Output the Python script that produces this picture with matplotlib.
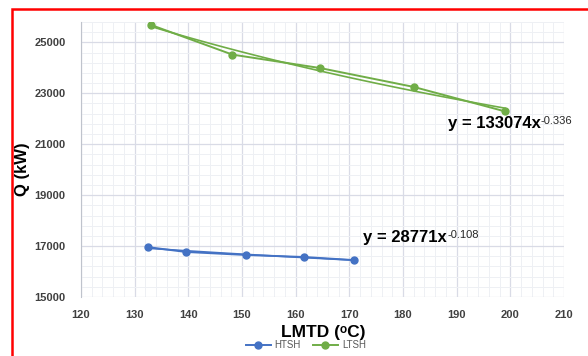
import numpy as np
import matplotlib.pyplot as plt
from matplotlib.patches import Rectangle
from matplotlib.ticker import FixedLocator, MultipleLocator

plt.rcParams['font.family'] = ['Liberation Sans', 'DejaVu Sans']

# data
htsh_x = [132.4, 139.5, 150.8, 161.6, 170.8]
htsh_q = [16960, 16770, 16650, 16570, 16450]
ltsh_x = [133.1, 148.2, 164.6, 182.0, 199.0]
ltsh_q = [25680, 24520, 23990, 23250, 22290]
htsh_eq = ("y = 28771x", "-0.108")
ltsh_eq = ("y = 133074x", "-0.336")
y_ticks = [15000, 17000, 19000, 21000, 23000, 25000]

blue = "#4472c4"
green = "#70ad47"

def power_fit(x, y):     # same kind of trendline Excel draws
    b, ln_a = np.polyfit(np.log(x), np.log(y), 1)
    xs = np.linspace(min(x), max(x), 100)
    return xs, np.exp(ln_a) * xs**b

fig = plt.figure(figsize=(5.88, 3.56), dpi=100)
ax = fig.add_axes([81/588, 59/356, 483/588, 275/356])

l1, = ax.plot(htsh_x, htsh_q, color=blue, lw=1.4, marker='o', ms=5, label="HTSH")
l2, = ax.plot(ltsh_x, ltsh_q, color=green, lw=1.4, marker='o', ms=5, label="LTSH")
xs, ys = power_fit(htsh_x, htsh_q)
ax.plot(xs, ys, color=blue, lw=1.2)
xs, ys = power_fit(ltsh_x, ltsh_q)
ax.plot(xs, ys, color=green, lw=1.2)

ax.set_xlim(120, 210)
ax.set_ylim(15000, 25800)
ax.xaxis.set_major_locator(MultipleLocator(10))
ax.xaxis.set_minor_locator(MultipleLocator(2))
ax.yaxis.set_major_locator(FixedLocator(y_ticks))
ax.yaxis.set_minor_locator(FixedLocator(np.arange(15000, 25801, 400)))
ax.grid(which='major', color='#d9dbe6', lw=0.9)
ax.grid(which='minor', color='#eef0f4', lw=0.7)
ax.set_axisbelow(True)
for s in ['top', 'right', 'bottom']:
    ax.spines[s].set_visible(False)
ax.spines['left'].set_color('#bfc3cc')
ax.tick_params(which='both', length=0)
ax.tick_params(axis='y', pad=11)
ax.tick_params(axis='x', pad=9)
for lab in ax.get_xticklabels() + ax.get_yticklabels():
    lab.set_fontsize(8)
    lab.set_fontweight('bold')
    lab.set_color('#404040')

ax.set_ylabel("Q (kW)", fontsize=12, fontweight='bold')
ax.set_xlabel("LMTD (ᵒC)", fontsize=12.5, fontweight='bold')
ax.yaxis.set_label_coords(-0.106, 0.465)
ax.xaxis.set_label_coords(0.502, -0.1)

# equation labels
for (main, sup), (tx, ty) in [(ltsh_eq, (188.3, 21800)), (htsh_eq, (172.6, 17330))]:
    t = ax.text(tx, ty, main, fontsize=12, fontweight='bold', va='center', ha='left')
    ax.annotate(sup, xy=(1, 1.02), xycoords=t, fontsize=8, va='top', ha='left',
                color='#262626')

fig.legend(handles=[l1, l2], loc='lower center', bbox_to_anchor=(0.52, 0.0), ncol=2,
           frameon=False, fontsize=7, handlelength=2.6, columnspacing=1.2,
           handletextpad=0.4, labelcolor='#595959', borderpad=0.1)

fig.patches.append(Rectangle((12/588, -0.1), 1.1, 1 - 9/356 + 0.1, transform=fig.transFigure,
                             fill=False, edgecolor='red', lw=1.8))

plt.savefig("out.png", dpi=100)
